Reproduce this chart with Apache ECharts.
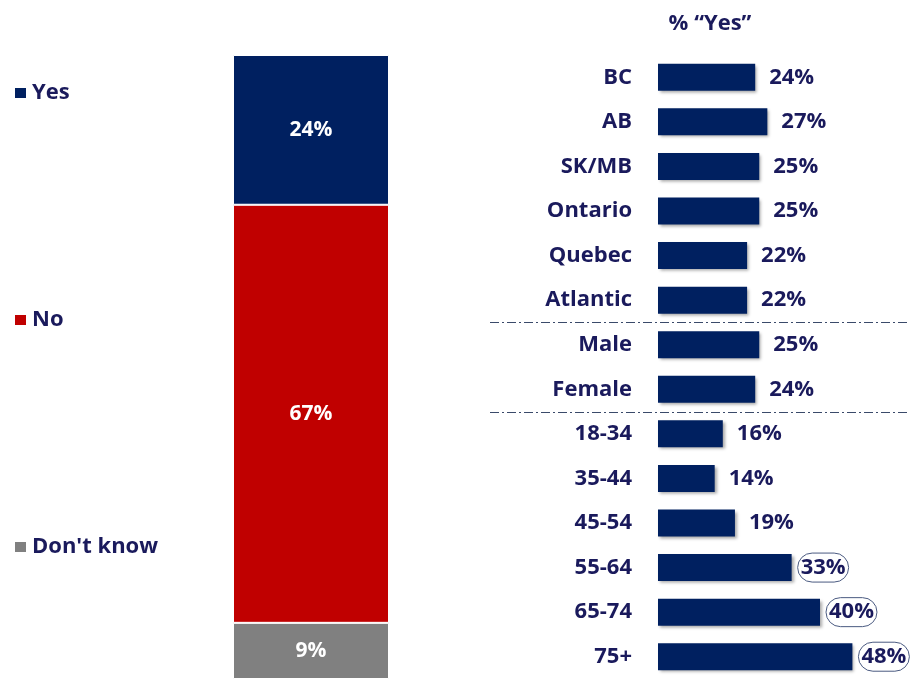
<!DOCTYPE html>
<html>
<head>
<meta charset="utf-8">
<script src="https://cdn.jsdelivr.net/npm/echarts@6/dist/echarts.min.js"></script>
<style>
  body { margin: 0; background: #fff; }
  #chart { width: 921px; height: 679px; }
</style>
</head>
<body>
<div id="chart"></div>
<script>
// overall answer (stacked bar)
var answerNames = ['Yes', 'No', "Don't know"];
var answerValues = [24, 67, 9];
var answerColors = ['#002060', '#c00000', '#808080'];

// % "Yes" by group
var groupNames = ['BC', 'AB', 'SK/MB', 'Ontario', 'Quebec', 'Atlantic', 'Male', 'Female',
  '18-34', '35-44', '45-54', '55-64', '65-74', '75+'];
var groupYes = [24, 27, 25, 25, 22, 22, 25, 24, 16, 14, 19, 33, 40, 48];
// groups whose label gets a circle
var circled = ['55-64', '65-74', '75+'];
// dashed separators go after these rows
var breakAfter = ['Atlantic', 'Female'];

var navy = '#1a1a5c';
var font = 'Open Sans';

var myChart = echarts.init(document.getElementById('chart'));

var stackSeries = [];
for (let i = 0; i < answerNames.length; i++) {
  stackSeries.push({
    name: answerNames[i],
    type: 'bar',
    stack: 'all',
    xAxisIndex: 0,
    yAxisIndex: 0,
    barWidth: '100%',
    data: [answerValues[i]],
    itemStyle: {
      color: answerColors[i],
      borderColor: '#fff',
      borderWidth: 1
    },
    label: {
      show: true,
      position: 'inside',
      formatter: '{c}%',
      color: '#fff',
      fontFamily: font,
      fontWeight: 'bold',
      fontSize: 21
    }
  });
}

var groupData = [];
for (let i = 0; i < groupNames.length; i++) {
  let item = { value: groupYes[i] };
  if (circled.indexOf(groupNames[i]) >= 0) {
    item.label = {
      distance: 6,
      borderColor: '#4a5a80',
      borderWidth: 1,
      borderRadius: 16,
      padding: [4, 3, 3, 3]
    };
  }
  groupData.push(item);
}

myChart.setOption({
  animation: false,
  textStyle: { fontFamily: font },
  title: {
    text: '% \u201cYes\u201d',
    left: 705,
    top: 8,
    textAlign: 'center',
    textStyle: { color: navy, fontFamily: font, fontWeight: 'bold', fontSize: 22 }
  },
  legend: {
    data: answerNames,
    orient: 'vertical',
    left: 8,
    top: 77,
    itemGap: 205,
    icon: 'rect',
    itemWidth: 13,
    itemHeight: 12,
    textStyle: { color: navy, fontFamily: font, fontWeight: 'bold', fontSize: 22 }
  },
  grid: [
    { left: 233, top: 55, width: 156, height: 625 },
    { left: 658, top: 55, width: 243, height: 626 }
  ],
  xAxis: [
    { gridIndex: 0, type: 'category', data: [''], show: false },
    { gridIndex: 1, type: 'value', min: 0, max: 60, show: false }
  ],
  yAxis: [
    { gridIndex: 0, type: 'value', min: 0, max: 100, inverse: true, show: false },
    {
      gridIndex: 1,
      type: 'category',
      inverse: true,
      data: groupNames,
      axisLine: { show: false },
      axisTick: { show: false },
      axisLabel: {
        margin: 26,
        color: navy,
        fontFamily: font,
        fontWeight: 'bold',
        fontSize: 22
      }
    }
  ],
  series: stackSeries.concat([{
    name: '% Yes',
    type: 'bar',
    xAxisIndex: 1,
    yAxisIndex: 1,
    barWidth: 27,
    data: groupData,
    itemStyle: {
      color: '#002060',
      shadowColor: 'rgba(0,0,0,0.35)',
      shadowBlur: 3,
      shadowOffsetX: 2,
      shadowOffsetY: 2
    },
    label: {
      show: true,
      position: 'right',
      distance: 14,
      formatter: '{c}%',
      color: navy,
      fontFamily: font,
      fontWeight: 'bold',
      fontSize: 22
    }
  }])
});

// dash-dot separators between the region / gender / age blocks
var lines = [];
for (let i = 0; i < breakAfter.length; i++) {
  let idx = groupNames.indexOf(breakAfter[i]);
  let y1 = myChart.convertToPixel({ yAxisIndex: 1 }, groupNames[idx]);
  let y2 = myChart.convertToPixel({ yAxisIndex: 1 }, groupNames[idx + 1]);
  let y = Math.round((y1 + y2) / 2) + 0.5;
  lines.push({
    type: 'line',
    shape: { x1: 490, y1: y, x2: 910, y2: y },
    style: { stroke: '#3a4a6a', lineWidth: 1, lineDash: [9, 3, 2, 3] }
  });
}
myChart.setOption({ graphic: lines });
</script>
</body>
</html>
